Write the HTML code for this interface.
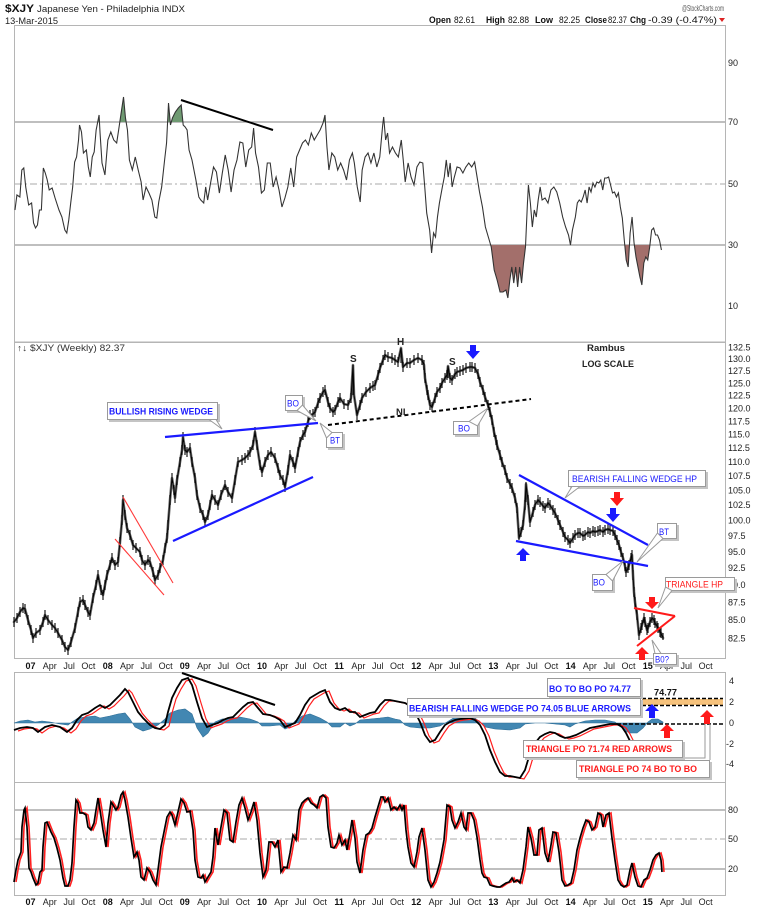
<!DOCTYPE html>
<html><head><meta charset="utf-8"><style>
html,body{margin:0;padding:0;background:#fff;}
svg{display:block;font-family:"Liberation Sans",Arial,sans-serif;}
.ax{font-size:9px;fill:#222;}
.yr{font-size:9px;font-weight:bold;fill:#111;}
.mo{font-size:9px;fill:#222;}
.cb{fill:#fff;stroke:#9a9a9a;stroke-width:1;}
.cs{fill:#c4c4c4;}
.bt{fill:#1a1aff;font-weight:bold;font-size:9px;}
.bn{fill:#1a1aff;font-size:9px;}
.rt{fill:#ff1a1a;font-weight:bold;font-size:9px;}
.rn{fill:#ff1a1a;font-size:9px;}
.ptr{fill:#fff;stroke:#9a9a9a;stroke-width:1;}
</style></head><body>
<svg width="765" height="909" viewBox="0 0 765 909" xmlns="http://www.w3.org/2000/svg">
<defs>
<polyline id="rsi" fill="none" points="15,210 17,195 20,197 22,170 24,168 26,187 29,205 32,203 34,223 36,228 38,225 40,210 42,210 44,168 46,173 48,180 50,190 53,188 56,198 60,210 63,217 66,230 68,233 70,220 72,203 74,187 76,162 78,157 80,140 81,125 83,132 85,153 88,150 90,167 92,177 94,157 96,152 98,130 101,115 102,133 104,163 107,175 110,140 113,132 116,140 119,143 121,130 124,110 126,97 128,118 130,130 132,160 135,170 138,157 141,170 144,182 146,200 149,187 152,193 155,200 158,217 160,218 162,202 165,187 168,160 170,143 172,103 174,125 176,118 179,112 182,108 185,105 187,125 189,127 191,130 193,150 196,160 200,180 203,197 205,200 208,203 210,187 212,200 215,183 218,167 221,172 224,193 227,173 230,155 233,170 236,192 239,170 242,160 245,142 248,143 251,167 254,150 257,147 259,128 261,153 264,167 267,193 270,190 273,163 276,163 279,187 282,177 285,190 288,207 291,198 294,187 297,168 300,187 303,157 306,150 309,143 312,140 315,145 318,133 321,140 324,135 327,130 330,123 332,115 334,147 336,170 339,153 342,157 345,170 348,163 351,170 354,180 357,160 360,153 362,163 365,187 368,202 370,170 373,157 376,153 379,163 382,153 385,167 388,157 391,125 392,117 394,140 396,133 398,153 401,147 404,153 407,157 410,140 412,160 414,182 417,163 420,177 423,185 426,167 429,162 432,163 434,187 436,213 439,230 441,253 443,233 445,237 447,217 449,203 452,187 454,177 456,160 458,177 460,163 462,187 464,178 467,167 470,168 473,173 476,167 479,163 482,167 485,162 488,180 490,192 493,207 496,227 499,237 502,247 505,270 508,280 511,292 514,292 517,290 519,298 521,280 523,267 525,283 527,267 529,287 531,267 533,283 535,263 537,247 539,203 540,185 542,203 544,227 546,210 548,217 550,200 552,187 554,200 557,198 560,203 563,190 566,187 569,192 572,203 575,217 578,227 581,235 583,245 585,230 588,217 590,203 592,200 594,202 596,197 598,190 600,203 602,187 604,192 606,183 608,187 610,182 612,183 614,180 616,190 618,178 620,178 622,177 624,185 626,193 628,192 630,197 632,193 634,207 636,218 638,240 640,260 642,267 644,233 646,217 648,243 650,257 652,267 654,277 656,285 658,263 660,257 662,260 664,247 666,230 668,228 670,235 672,235 674,240 676,250"/>
<polyline id="px" fill="none" points="14,622 17,618 20,612 23,608 25,609 28,620 31,630 33,638 36,633 40,630 43,622 45,615 48,620 52,625 55,628 58,633 62,640 65,647 68,650 71,642 75,628 78,612 80,602 83,600 85,605 88,612 90,615 93,598 96,585 98,575 101,590 103,595 105,585 107,575 110,565 112,558 115,565 118,562 120,542 122,520 123,500 125,515 127,528 130,535 133,545 136,548 140,552 142,560 145,565 148,560 150,562 153,572 155,580 158,575 160,568 163,560 165,548 167,538 168,525 170,500 172,478 174,490 175,498 177,480 180,462 182,450 183,437 185,450 187,452 190,448 192,462 195,478 197,495 200,508 203,515 205,522 208,515 210,505 212,495 215,500 218,505 221,495 225,485 228,492 232,498 235,480 238,462 242,460 245,458 248,455 250,452 253,445 255,432 257,445 260,465 262,472 265,462 268,455 271,452 275,458 278,468 280,475 283,480 285,487 288,470 290,455 293,462 295,468 298,452 300,442 303,435 305,432 308,422 310,415 313,414 315,412 318,403 320,398 323,392 325,390 328,402 330,408 333,412 335,410 338,402 340,398 344,404 348,405 351,398 353,365 354,395 357,415 360,405 362,398 366,392 370,388 373,386 375,385 378,375 380,368 383,360 385,355 388,357 392,358 395,360 398,362 401,348 403,367 407,363 410,363 414,360 418,358 422,360 424,365 425,378 427,390 428,395 430,405 432,407 435,398 437,392 440,388 442,383 445,378 447,375 448,366 450,378 452,380 455,374 457,372 460,371 463,370 466,368 470,367 472,367 475,368 478,374 480,382 483,390 485,397 488,405 490,412 492,420 494,432 496,440 497,445 500,455 502,462 505,470 507,478 510,484 512,488 515,498 517,508 519,538 521,532 523,525 525,505 526,484 528,500 530,522 533,512 535,505 538,500 540,502 543,506 545,508 548,503 550,505 553,510 555,513 558,520 560,525 563,532 565,537 568,540 570,543 573,538 575,535 578,533 580,533 583,536 585,535 588,532 590,533 593,531 595,532 598,531 600,530 603,532 605,530 608,529 610,530 613,531 615,535 617,540 619,545 621,552 623,558 625,566 626,572 628,568 629,565 631,558 632,555 633,575 634,592 635,602 637,615 639,635 641,628 642,625 644,618 645,622 647,630 648,628 650,622 652,618 654,620 655,623 657,626 658,628 660,632 661,633 663,638"/>
<path id="bars" fill="none" d="M14,617v10M17,613v10M20,607v10M23,603v10M25,604v10M28,615v10M31,625v10M33,633v10M36,628v10M40,625v10M43,617v10M45,610v10M48,615v10M52,620v10M55,623v10M58,628v10M62,635v10M65,642v10M68,645v10M71,637v10M75,623v10M78,607v10M80,597v10M83,595v10M85,600v10M88,607v10M90,610v10M93,593v10M96,580v10M98,570v10M101,585v10M103,590v10M105,580v10M107,570v10M110,560v10M112,553v10M115,560v10M118,557v10M120,537v10M122,515v10M123,495v10M125,510v10M127,523v10M130,530v10M133,540v10M136,543v10M140,547v10M142,555v10M145,560v10M148,555v10M150,557v10M153,567v10M155,575v10M158,570v10M160,563v10M163,555v10M165,543v10M167,533v10M168,520v10M170,495v10M172,473v10M174,485v10M175,493v10M177,475v10M180,457v10M182,445v10M183,432v10M185,445v10M187,447v10M190,443v10M192,457v10M195,473v10M197,490v10M200,503v10M203,510v10M205,517v10M208,510v10M210,500v10M212,490v10M215,495v10M218,500v10M221,490v10M225,480v10M228,487v10M232,493v10M235,475v10M238,457v10M242,455v10M245,453v10M248,450v10M250,447v10M253,440v10M255,427v10M257,440v10M260,460v10M262,467v10M265,457v10M268,450v10M271,447v10M275,453v10M278,463v10M280,470v10M283,475v10M285,482v10M288,465v10M290,450v10M293,457v10M295,463v10M298,447v10M300,437v10M303,430v10M305,427v10M308,417v10M310,410v10M313,409v10M315,407v10M318,398v10M320,393v10M323,387v10M325,385v10M328,397v10M330,403v10M333,407v10M335,405v10M338,397v10M340,393v10M344,399v10M348,400v10M351,393v10M353,365v30M357,410v10M360,400v10M362,393v10M366,387v10M370,383v10M373,381v10M375,380v10M378,370v10M380,363v10M383,355v10M385,350v10M388,352v10M392,353v10M395,355v10M398,357v10M401,348v15M403,362v10M407,358v10M410,358v10M414,355v10M418,353v10M422,355v10M424,360v10M425,373v10M427,385v10M428,390v10M430,400v10M432,402v10M435,393v10M437,387v10M440,383v10M442,378v10M445,373v10M447,370v10M448,366v12M450,373v10M452,375v10M455,369v10M457,367v10M460,366v10M463,365v10M466,363v10M470,362v10M472,362v10M475,363v10M478,369v10M480,377v10M483,385v10M485,392v10M488,400v10M490,407v10M492,415v10M494,427v10M496,435v10M497,440v10M500,450v10M502,457v10M505,465v10M507,473v10M510,479v10M512,483v10M515,493v10M517,503v10M519,528v12M521,527v10M523,520v10M525,500v10M526,482v20M528,495v10M530,517v10M533,507v10M535,500v10M538,495v10M540,497v10M543,501v10M545,503v10M548,498v10M550,500v10M553,505v10M555,508v10M558,515v10M560,520v10M563,527v10M565,532v10M568,535v10M570,538v10M573,533v10M575,530v10M578,528v10M580,528v10M583,531v10M585,530v10M588,527v10M590,528v10M593,526v10M595,527v10M598,526v10M600,525v10M603,527v10M605,525v10M608,524v10M610,525v10M613,526v10M615,530v10M617,535v10M619,540v10M621,547v10M623,553v10M625,561v10M626,567v10M628,563v10M629,560v10M631,553v10M632,550v10M633,570v10M634,587v10M635,597v10M637,610v10M639,630v10M641,623v10M642,620v10M644,613v10M645,617v10M647,625v10M648,623v10M650,617v10M652,613v10M654,615v10M655,618v10M657,621v10M658,623v10M660,627v10M661,628v10M663,633v7"/>
<polyline id="macd" fill="none" points="14,730 20,728 27,727 33,728 38,732 45,727 52,725 60,727 67,732 72,728 77,720 82,715 88,713 95,708 100,705 105,708 110,705 115,700 120,695 125,689 128,692 133,702 138,712 143,718 150,725 155,728 160,729 165,725 168,712 172,698 177,688 182,680 188,678 192,685 197,702 202,718 207,727 212,725 218,723 223,720 228,718 233,717 238,712 243,707 248,703 253,702 258,708 263,714 270,715 275,717 280,720 285,727 290,725 295,723 300,715 305,705 310,698 315,695 320,692 325,690 330,702 335,708 340,710 345,708 350,712 355,712 360,717 365,715 370,713 375,712 380,705 385,700 390,700 395,701 400,702 405,703 410,706 415,712 420,722 425,735 430,742 435,740 440,732 445,725 450,722 455,720 460,719 470,718 475,720 480,725 485,735 490,750 495,762 500,772 505,776 510,776 515,777 520,778 525,770 528,760 532,750 536,742 540,737 545,734 550,732 555,733 560,736 565,738 570,737 576,735 582,732 590,728 600,726 610,724 617,724 622,727 626,733 630,741 634,748 640,758 650,765 660,768 663,768"/>
<polyline id="sto" fill="none" points="14,882 16,870 18,860 21,852 22,827 24,810 25,808 27,827 29,868 31,872 33,878 36,885 38,883 40,872 42,870 43,847 45,823 47,822 49,827 51,832 54,838 57,848 60,860 63,878 65,886 68,886 70,880 72,863 74,827 76,800 78,803 80,813 83,813 86,815 88,827 91,830 94,823 96,810 98,798 100,810 103,830 106,847 108,823 111,802 113,805 116,810 118,807 121,795 123,792 125,800 128,817 131,838 134,857 137,852 139,860 141,877 144,880 147,868 150,872 153,880 156,885 158,870 161,847 164,832 167,817 170,812 172,815 175,825 178,812 181,799 184,803 187,812 190,811 193,830 195,860 198,877 201,878 203,875 205,882 208,877 211,872 213,857 215,828 218,845 221,827 224,810 227,813 230,840 233,842 236,822 239,805 242,798 245,808 248,820 251,812 254,802 257,820 260,853 263,877 266,870 269,842 272,842 275,847 278,840 281,872 284,867 287,868 290,853 293,835 296,840 299,810 302,803 305,800 308,798 311,803 314,805 317,808 320,797 323,795 326,798 328,827 331,847 334,848 337,843 339,835 342,845 345,840 347,850 350,833 352,820 355,838 357,862 360,873 363,850 366,835 369,833 372,828 375,817 378,807 381,797 383,797 385,802 388,798 391,810 394,807 397,810 400,805 402,810 404,805 406,830 408,847 411,863 414,867 417,852 419,837 422,828 425,850 428,880 431,887 434,882 437,873 440,862 444,840 447,805 450,807 452,820 455,828 458,822 461,813 464,827 466,830 468,813 471,813 474,820 477,837 480,860 482,873 484,877 487,878 490,885 493,886 497,887 500,887 503,885 506,883 509,882 512,878 514,882 517,880 520,883 523,870 526,847 528,827 531,838 534,855 537,855 539,830 542,828 545,853 548,862 551,845 553,832 556,833 559,852 562,880 565,886 568,885 571,883 574,870 577,850 580,838 583,828 586,820 589,822 592,830 595,827 598,813 601,815 603,827 606,815 609,813 612,838 615,860 618,880 621,885 624,887 627,885 630,870 632,863 635,877 638,886 641,887 644,880 647,878 650,870 653,860 656,855 659,853 661,860 662,872"/>
</defs>

<!-- HEADER -->
<text x="5" y="12" font-size="11" font-weight="bold" fill="#111" textLength="29" lengthAdjust="spacingAndGlyphs">$XJY</text>
<text x="37" y="12" font-size="9" fill="#222" textLength="148" lengthAdjust="spacingAndGlyphs">Japanese Yen - Philadelphia INDX</text>
<text x="5" y="24" font-size="9" fill="#222" textLength="53" lengthAdjust="spacingAndGlyphs">13-Mar-2015</text>
<text x="682" y="11" font-size="8.5" fill="#555" textLength="42" lengthAdjust="spacingAndGlyphs">@StockCharts.com</text>
<g font-size="9" fill="#111">
<text x="429" y="23" font-weight="bold" textLength="22" lengthAdjust="spacingAndGlyphs">Open</text>
<text x="454" y="23" textLength="21" lengthAdjust="spacingAndGlyphs">82.61</text>
<text x="486" y="23" font-weight="bold" textLength="19" lengthAdjust="spacingAndGlyphs">High</text>
<text x="508" y="23" textLength="21" lengthAdjust="spacingAndGlyphs">82.88</text>
<text x="535" y="23" font-weight="bold" textLength="18" lengthAdjust="spacingAndGlyphs">Low</text>
<text x="559" y="23" textLength="21" lengthAdjust="spacingAndGlyphs">82.25</text>
<text x="585" y="23" font-weight="bold" textLength="22" lengthAdjust="spacingAndGlyphs">Close</text>
<text x="608" y="23" textLength="19" lengthAdjust="spacingAndGlyphs">82.37</text>
<text x="630" y="23" font-weight="bold" textLength="16" lengthAdjust="spacingAndGlyphs">Chg</text>
<text x="648" y="23" textLength="69" lengthAdjust="spacingAndGlyphs">-0.39 (-0.47%)</text>
</g>
<polygon points="719,18 725,18 722,22" fill="#d22"/>

<!-- RSI PANEL -->
<rect x="14.5" y="25.5" width="711" height="316.5" fill="#fff" stroke="#b5b5b5"/>
<line x1="15" y1="122" x2="725" y2="122" stroke="#999" stroke-width="1.2"/>
<line x1="15" y1="245" x2="725" y2="245" stroke="#999" stroke-width="1.2"/>
<line x1="15" y1="184" x2="725" y2="184" stroke="#aaa" stroke-width="1" stroke-dasharray="7,3,2,3"/>
<text class="ax" x="728" y="66">90</text>
<text class="ax" x="728" y="125">70</text>
<text class="ax" x="728" y="187">50</text>
<text class="ax" x="728" y="248">30</text>
<text class="ax" x="728" y="309">10</text>
<g transform="translate(0.3,0) scale(0.978,1)">
<g fill="#a36f6b" stroke="none">
<polygon points="501.4,245 502,247 505,270 508,280 511,292 514,292 517,290 519,298 521,280 523,267 525,283 527,267 529,287 531,267 533,283 535,263 537,247 537.1,245"/>
<polygon points="638.5,245 640,260 642,267 643.3,245"/>
<polygon points="648.3,245 650,257 652,267 654,277 656,285 658,263 660,257 662,260 664,247 664.2,245"/>
<polygon points="440.3,245 441,253 441.7,245"/>
</g>
<g fill="#6f9a72" stroke="none">
<polygon points="122.2,122 124,110 126,97 128,118 128.7,122"/>
<polygon points="99.6,122 101,115 101.4,122"/>
<polygon points="171,122 172,103 173.7,122"/>
<polygon points="174.9,122 176,118 179,112 182,108 185,105 186.7,122"/>
<polygon points="330.3,122 332,115 332.4,122"/>
<polygon points="391.4,122 392,117 392.2,122"/>
</g>
<use href="#rsi" stroke="#333" stroke-width="1.1"/>
</g>
<line x1="181" y1="100" x2="273" y2="130" stroke="#000" stroke-width="2"/>

<!-- MAIN PANEL -->
<rect x="14.5" y="342.5" width="711" height="316" fill="none" stroke="#b5b5b5"/>
<g class="ax">
<text x="728" y="350.5">132.5</text><text x="728" y="362.2">130.0</text><text x="728" y="374.1">127.5</text>
<text x="728" y="386.3">125.0</text><text x="728" y="398.7">122.5</text><text x="728" y="411.4">120.0</text>
<text x="728" y="424.3">117.5</text><text x="728" y="437.5">115.0</text><text x="728" y="451">112.5</text>
<text x="728" y="464.8">110.0</text><text x="728" y="478.9">107.5</text><text x="728" y="493.4">105.0</text>
<text x="728" y="508.2">102.5</text><text x="728" y="523.3">100.0</text><text x="728" y="538.9">97.5</text>
<text x="728" y="554.8">95.0</text><text x="728" y="571.2">92.5</text><text x="728" y="588.1">90.0</text>
<text x="728" y="605.4">87.5</text><text x="728" y="623.2">85.0</text><text x="728" y="641.5">82.5</text>
</g>
<text x="17" y="351" font-size="9" fill="#333" textLength="108" lengthAdjust="spacingAndGlyphs">↑↓ $XJY (Weekly) 82.37</text>

<use href="#px" stroke="#6a6a6a" stroke-width="2.6" stroke-linejoin="round" stroke-linecap="round"/>
<use href="#bars" stroke="#1a1a1a" stroke-width="1.2"/>
<use href="#px" stroke="#000" stroke-width="0.9"/>

<!-- annotations main -->
<line x1="328" y1="425" x2="531" y2="399" stroke="#000" stroke-width="2" stroke-dasharray="4,3"/>
<line x1="165" y1="437" x2="318" y2="423" stroke="#1a1aff" stroke-width="2.2"/>
<line x1="173" y1="541" x2="313" y2="477" stroke="#1a1aff" stroke-width="2.2"/>
<line x1="123" y1="497" x2="173" y2="583" stroke="#ff3a3a" stroke-width="1.1"/>
<line x1="115" y1="539" x2="164" y2="595" stroke="#ff3a3a" stroke-width="1.1"/>
<line x1="519" y1="475" x2="648" y2="545" stroke="#1a1aff" stroke-width="2.2"/>
<line x1="516" y1="541" x2="648" y2="566" stroke="#1a1aff" stroke-width="2.2"/>
<line x1="634" y1="608" x2="675" y2="616" stroke="#ff1a1a" stroke-width="2"/>
<line x1="637" y1="646" x2="675" y2="616" stroke="#ff1a1a" stroke-width="2"/>

<g font-weight="bold" fill="#222" font-size="10">
<text x="350" y="362">S</text>
<text x="397" y="345">H</text>
<text x="449" y="365">S</text>
<text x="396" y="415" font-size="9.5">NL</text>
<text x="587" y="351" font-size="9" textLength="38" lengthAdjust="spacingAndGlyphs">Rambus</text>
<text x="582" y="367" font-size="9" textLength="52" lengthAdjust="spacingAndGlyphs">LOG SCALE</text>
</g>

<!-- arrows main -->
<polygon points="470,345 476,345 476,351 480,351 473,359 466,351 470,351" fill="#1a1aff"/>
<polygon points="614,492 620,492 620,498 624,498 617,506 610,498 614,498" fill="#ff1a1a"/>
<polygon points="610,508 616,508 616,514 620,514 613,522 606,514 610,514" fill="#1a1aff"/>
<polygon points="523,548 530,555 526,555 526,561 520,561 520,555 516,555" fill="#1a1aff"/>
<polygon points="649,597 655,597 655,602 659,602 652,609 645,602 649,602" fill="#ff1a1a"/>
<polygon points="642,647 649,654 645,654 645,660 639,660 639,654 635,654" fill="#ff1a1a"/>

<!-- callouts main -->
<rect class="cs" x="109" y="404" width="111" height="18"/>
<rect class="cb" x="107.5" y="402.5" width="110" height="17"/>
<polygon class="ptr" points="209,419.5 222,429 216,419.5"/>
<text class="bt" x="109" y="414.5" textLength="104" lengthAdjust="spacingAndGlyphs">BULLISH RISING WEDGE</text>

<rect class="cs" x="287" y="397" width="18" height="16"/>
<rect class="cb" x="285.5" y="395.5" width="17" height="15"/>
<polygon class="ptr" points="297,410.5 316,421 302.5,405"/>
<text class="bn" x="287" y="406.5" textLength="12" lengthAdjust="spacingAndGlyphs">BO</text>

<rect class="cs" x="328" y="434" width="17" height="16"/>
<rect class="cb" x="326.5" y="432.5" width="16" height="15"/>
<polygon class="ptr" points="326.5,438 320,423 332,432.5"/>
<text class="bn" x="330" y="443.5" textLength="10" lengthAdjust="spacingAndGlyphs">BT</text>

<rect class="cs" x="455" y="423" width="25" height="14"/>
<rect class="cb" x="453.5" y="421.5" width="24" height="13"/>
<polygon class="ptr" points="469,421.5 488,408 477.5,426"/>
<text class="bn" x="458" y="431.5" textLength="12" lengthAdjust="spacingAndGlyphs">BO</text>

<rect class="cs" x="570" y="472" width="138" height="17"/>
<rect class="cb" x="568.5" y="470.5" width="137" height="16"/>
<polygon class="ptr" points="572,486.5 565,498 580,486.5"/>
<text class="bn" x="572" y="482" textLength="125" lengthAdjust="spacingAndGlyphs">BEARISH FALLING WEDGE HP</text>

<rect class="cs" x="659" y="525" width="20" height="16"/>
<rect class="cb" x="657.5" y="523.5" width="19" height="15"/>
<polygon class="ptr" points="657.5,533 637,562 663,538.5"/>
<text class="bn" x="659" y="535" textLength="10" lengthAdjust="spacingAndGlyphs">BT</text>

<rect class="cs" x="594" y="576" width="21" height="17"/>
<rect class="cb" x="592.5" y="574.5" width="20" height="16"/>
<polygon class="ptr" points="606,574.5 623,561 612.5,581"/>
<text class="bn" x="593" y="585.5" textLength="12" lengthAdjust="spacingAndGlyphs">BO</text>

<rect class="cs" x="667" y="579" width="70" height="14"/>
<rect class="cb" x="665.5" y="577.5" width="69" height="13"/>
<polygon class="ptr" points="665.5,587 658,608 672,590.5"/>
<text class="rn" x="666" y="587.5" textLength="57" lengthAdjust="spacingAndGlyphs">TRIANGLE HP</text>

<!-- MAIN X AXIS -->
<g text-anchor="middle">
<text class="yr" x="30.5" y="669">07</text><text class="mo" x="49.8" y="669">Apr</text><text class="mo" x="69.1" y="669">Jul</text><text class="mo" x="88.4" y="669">Oct</text>
<text class="yr" x="107.7" y="669">08</text><text class="mo" x="127" y="669">Apr</text><text class="mo" x="146.3" y="669">Jul</text><text class="mo" x="165.6" y="669">Oct</text>
<text class="yr" x="184.8" y="669">09</text><text class="mo" x="204.1" y="669">Apr</text><text class="mo" x="223.4" y="669">Jul</text><text class="mo" x="242.7" y="669">Oct</text>
<text class="yr" x="262" y="669">10</text><text class="mo" x="281.3" y="669">Apr</text><text class="mo" x="300.6" y="669">Jul</text><text class="mo" x="319.9" y="669">Oct</text>
<text class="yr" x="339.1" y="669">11</text><text class="mo" x="358.4" y="669">Apr</text><text class="mo" x="377.7" y="669">Jul</text><text class="mo" x="397" y="669">Oct</text>
<text class="yr" x="416.3" y="669">12</text><text class="mo" x="435.6" y="669">Apr</text><text class="mo" x="454.9" y="669">Jul</text><text class="mo" x="474.2" y="669">Oct</text>
<text class="yr" x="493.4" y="669">13</text><text class="mo" x="512.7" y="669">Apr</text><text class="mo" x="532" y="669">Jul</text><text class="mo" x="551.3" y="669">Oct</text>
<text class="yr" x="570.6" y="669">14</text><text class="mo" x="589.9" y="669">Apr</text><text class="mo" x="609.2" y="669">Jul</text><text class="mo" x="628.5" y="669">Oct</text>
<text class="yr" x="647.7" y="669">15</text><text class="mo" x="667" y="669">Apr</text><text class="mo" x="686.3" y="669">Jul</text><text class="mo" x="705.6" y="669">Oct</text>
</g>
<!-- B0? box over axis label -->
<rect class="cs" x="655" y="655" width="24" height="12"/>
<rect class="cb" x="653.5" y="653.5" width="23" height="11"/>
<polygon class="ptr" points="655,653.5 652,640 661,653.5"/>
<text class="bn" x="655" y="662.5" textLength="14" lengthAdjust="spacingAndGlyphs">B0?</text>

<!-- MACD PANEL -->
<rect x="14.5" y="672.5" width="711" height="110" fill="none" stroke="#b5b5b5"/>
<g class="ax">
<text x="729" y="684">4</text><text x="729" y="705">2</text><text x="729" y="726">0</text>
<text x="726" y="747">-2</text><text x="726" y="767">-4</text>
</g>
<path d="M14,723 L14,723 20,721 28,720 35,722 42,721 50,722 60,724 68,725 72,722 78,718 85,717 95,716 100,718 110,716 118,714 125,713 130,719 135,727 143,731 150,729 158,725 165,719 170,713 178,710 185,709 192,714 197,728 203,737 208,733 215,722 222,719 232,718 240,717 250,719 258,722 262,726 270,726 280,725 285,729 290,727 295,721 302,716 310,714 320,718 327,722 332,727 340,727 345,723 350,726 355,724 360,720 370,719 380,718 388,717 395,719 400,720 405,725 410,727 420,728 430,728 440,726 447,722 455,717 465,717 475,718 480,722 485,727 495,729 510,730 520,728 525,724 535,723 545,723 555,724 565,725 570,727 575,724 585,721 595,720 605,720 615,722 620,726 625,731 630,733 637,733 643,728 648,722 652,719 658,719 663,722 663,723 Z" fill="#4287b2" stroke="#2d6d96" stroke-width="0.6"/>
<use href="#macd" stroke="#ff2020" stroke-width="1.2" transform="translate(4,1)"/>
<use href="#macd" stroke="#000" stroke-width="1.8"/>
<line x1="182" y1="673" x2="275" y2="705" stroke="#000" stroke-width="2"/>

<rect x="642" y="699" width="81" height="6" fill="#f6c27c"/>
<line x1="642" y1="698.5" x2="723" y2="698.5" stroke="#000" stroke-width="1.5" stroke-dasharray="4,2"/>
<line x1="642" y1="705.5" x2="723" y2="705.5" stroke="#000" stroke-width="1.5" stroke-dasharray="4,2"/>
<line x1="617" y1="724" x2="723" y2="724" stroke="#000" stroke-width="1.5" stroke-dasharray="4,2"/>
<text x="654" y="695.5" font-size="9.5" font-weight="bold" fill="#111" textLength="23" lengthAdjust="spacingAndGlyphs">74.77</text>

<rect class="cs" x="549" y="680" width="94" height="19"/>
<rect class="cb" x="547.5" y="678.5" width="93" height="18"/>
<text class="bt" x="549" y="692" textLength="82" lengthAdjust="spacingAndGlyphs">BO TO BO PO 74.77</text>

<rect class="cs" x="409" y="700" width="234" height="18"/>
<rect class="cb" x="407.5" y="698.5" width="233" height="17"/>
<text class="bt" x="409" y="711.5" textLength="222" lengthAdjust="spacingAndGlyphs">BEARISH FALLING WEDGE PO 74.05 BLUE ARROWS</text>

<polygon points="652,704 659,711 655,711 655,718 649,718 649,711 645,711" fill="#1a1aff"/>
<polygon points="667,724 674,731 670,731 670,738 664,738 664,731 660,731" fill="#ff1a1a"/>
<polygon points="707,710 714,717 710,717 710,724 704,724 704,717 700,717" fill="#ff1a1a"/>

<polyline points="683,758 705,758 705,724" fill="none" stroke="#9a9a9a" stroke-width="1"/>
<line x1="710" y1="724" x2="710" y2="760" stroke="#9a9a9a" stroke-width="1"/>

<rect class="cs" x="525" y="742" width="160" height="18"/>
<rect class="cb" x="523.5" y="740.5" width="159" height="17"/>
<text class="rt" x="526" y="752" textLength="146" lengthAdjust="spacingAndGlyphs">TRIANGLE PO 71.74 RED ARROWS</text>

<rect class="cs" x="578" y="762" width="134" height="18"/>
<rect class="cb" x="576.5" y="760.5" width="133" height="17"/>
<text class="rt" x="579" y="772" textLength="118" lengthAdjust="spacingAndGlyphs">TRIANGLE PO 74 BO TO BO</text>

<!-- STOCH PANEL -->
<rect x="14.5" y="782.5" width="711" height="113" fill="none" stroke="#b5b5b5"/>
<line x1="15" y1="810" x2="725" y2="810" stroke="#999" stroke-width="1.2"/>
<line x1="15" y1="869" x2="725" y2="869" stroke="#999" stroke-width="1.2"/>
<line x1="15" y1="839" x2="725" y2="839" stroke="#aaa" stroke-width="1" stroke-dasharray="7,3,2,3"/>
<g class="ax">
<text x="728" y="813">80</text><text x="728" y="842">50</text><text x="728" y="872">20</text>
</g>
<use href="#sto" stroke="#ff2020" stroke-width="1.6" transform="translate(2,0)"/>
<use href="#sto" stroke="#000" stroke-width="1.7"/>

<g text-anchor="middle">
<text class="yr" x="30.5" y="905">07</text><text class="mo" x="49.8" y="905">Apr</text><text class="mo" x="69.1" y="905">Jul</text><text class="mo" x="88.4" y="905">Oct</text>
<text class="yr" x="107.7" y="905">08</text><text class="mo" x="127" y="905">Apr</text><text class="mo" x="146.3" y="905">Jul</text><text class="mo" x="165.6" y="905">Oct</text>
<text class="yr" x="184.8" y="905">09</text><text class="mo" x="204.1" y="905">Apr</text><text class="mo" x="223.4" y="905">Jul</text><text class="mo" x="242.7" y="905">Oct</text>
<text class="yr" x="262" y="905">10</text><text class="mo" x="281.3" y="905">Apr</text><text class="mo" x="300.6" y="905">Jul</text><text class="mo" x="319.9" y="905">Oct</text>
<text class="yr" x="339.1" y="905">11</text><text class="mo" x="358.4" y="905">Apr</text><text class="mo" x="377.7" y="905">Jul</text><text class="mo" x="397" y="905">Oct</text>
<text class="yr" x="416.3" y="905">12</text><text class="mo" x="435.6" y="905">Apr</text><text class="mo" x="454.9" y="905">Jul</text><text class="mo" x="474.2" y="905">Oct</text>
<text class="yr" x="493.4" y="905">13</text><text class="mo" x="512.7" y="905">Apr</text><text class="mo" x="532" y="905">Jul</text><text class="mo" x="551.3" y="905">Oct</text>
<text class="yr" x="570.6" y="905">14</text><text class="mo" x="589.9" y="905">Apr</text><text class="mo" x="609.2" y="905">Jul</text><text class="mo" x="628.5" y="905">Oct</text>
<text class="yr" x="647.7" y="905">15</text><text class="mo" x="667" y="905">Apr</text><text class="mo" x="686.3" y="905">Jul</text><text class="mo" x="705.6" y="905">Oct</text>
</g>
</svg>
</body></html>
